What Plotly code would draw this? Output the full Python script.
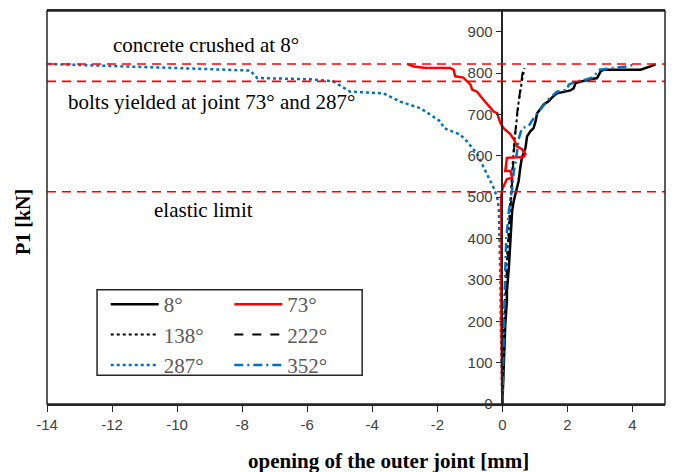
import plotly.graph_objects as go

# Joint opening (mm) vs. load P1 (kN) for each joint position
x_8 = [0, 0.01, 0.04, 0.09, 0.14, 0.14, 0.2, 0.25, 0.3, 0.35, 0.4, 0.47, 0.5, 0.55, 0.6, 0.71,
       0.76, 0.86, 0.96, 1.02, 1.07, 1.27, 1.42, 1.57, 1.68, 2.09, 2.19, 2.25, 2.45, 2.6, 2.91,
       3.02, 3.12, 3.63, 4.25, 4.55, 4.71]
y_8 = [0, 18, 114, 194, 250, 274, 330, 411, 467, 491, 507, 523, 539, 571, 595, 619,
       647, 659, 667, 683, 703, 724, 732, 744, 751, 758, 763, 776, 781, 783, 788,
       804, 808, 808, 808, 816, 821]

x_73 = [0, -0.02, -0.03, -0.03, -0.02, -0.03, -0.04, 0, 0.14, 0.3, 0.25, 0.09, 0.14, 0.65, 0.71,
        0.6, 0.45, 0.35, 0.25, 0.04, -0.06, -0.16, -0.27, -0.47, -0.62, -0.78, -0.93, -0.98,
        -1.08, -1.2, -1.45, -1.5, -1.6, -2.42, -2.73, -2.93]
y_73 = [0, 100, 200, 300, 400, 450, 499, 520, 544, 547, 563, 563, 595, 597, 604,
        616, 623, 640, 652, 667, 679, 703, 707, 724, 739, 755, 760, 772,
        780, 789, 792, 808, 812, 813, 816, 822]

x_138 = [0, 0.02, 0.06, 0.1, 0.17, 0.25, 0.3, 0.35, 0.42, 0.5, 0.6, 0.68]
y_138 = [0, 100, 200, 300, 400, 500, 560, 620, 680, 730, 780, 812]

x_222 = [0, 0.03, 0.08, 0.12, 0.2, 0.28, 0.33, 0.38, 0.45, 0.55, 0.62, 0.7]
y_222 = [0, 100, 200, 300, 400, 500, 580, 640, 700, 760, 800, 815]

x_287 = [0, -0.03, -0.05, -0.06, -0.08, -0.11, -0.16, -0.27, -0.37, -0.58, -0.78, -1.09,
         -1.29, -1.8, -1.9, -2.52, -3.14, -3.66, -4.68, -5.2, -5.9, -7.54, -7.75, -10, -14]
y_287 = [0, 100, 200, 300, 400, 475, 499, 523, 539, 571, 605, 635,
         651, 667, 683, 715, 731, 751, 755, 780, 785, 788, 806, 812, 822]

x_352 = [0, 0.02, 0.05, 0.08, 0.12, 0.2, 0.3, 0.35, 0.4, 0.5, 0.6, 0.8, 0.96, 1.2, 1.4,
         1.68, 2.0, 2.04, 2.3, 2.6, 2.8, 2.96, 3.32, 3.83, 4.09]
y_352 = [0, 100, 200, 300, 400, 467, 520, 563, 580, 640, 667, 671, 691, 716, 735,
         755, 760, 772, 780, 785, 790, 808, 812, 816, 821]

# Load levels marked by horizontal reference lines
limit_levels = [822, 780, 513]
limit_labels = ["concrete crushed at 8°", "bolts yielded at joint 73° and 287°", "elastic limit"]
label_pos = [(-9.1, 869), (-8.95, 729), (-9.2, 469)]

x_ticks = list(range(-14, 5, 2))
x_tick_text = [str(v) for v in x_ticks]
y_ticks = list(range(0, 901, 100))

BLUE = "#0070C0"
series = [
    ("8°", x_8, y_8, "black", "solid", 2.5, "legend"),
    ("138°", x_138, y_138, "black", "dot", 2, "legend"),
    ("287°", x_287, y_287, BLUE, "dot", 2.5, "legend"),
    ("73°", x_73, y_73, "#FF0000", "solid", 2.5, "legend2"),
    ("222°", x_222, y_222, "black", "dash", 2, "legend2"),
    ("352°", x_352, y_352, BLUE, "9px,4px,2px,4px", 2.5, "legend2"),
]

fig = go.Figure()
for name, xs, ys, color, dash, width, leg in series:
    fig.add_trace(go.Scatter(x=xs, y=ys, mode="lines", name=name, legend=leg,
                             line=dict(color=color, dash=dash, width=width)))

for lvl in limit_levels:
    fig.add_shape(type="line", xref="paper", yref="y", x0=0, x1=1, y0=lvl, y1=lvl,
                  line=dict(color="#FF0000", width=1.6, dash="9px,6px"))

for txt, (ax, ay) in zip(limit_labels, label_pos):
    fig.add_annotation(x=ax, y=ay, xref="x", yref="y", text=txt, showarrow=False,
                       xanchor="center", yanchor="middle",
                       font=dict(family="Liberation Serif", size=21, color="black"))

# Frame around the plotting area
fig.add_shape(type="rect", xref="paper", yref="paper", x0=0, x1=1, y0=0, y1=1,
              line=dict(color="#262626", width=1.5), layer="above")

fig.add_annotation(x=-0.039, y=0.463, xref="paper", yref="paper", text="<b>P1 [kN]</b>",
                   textangle=-90, showarrow=False, xanchor="center", yanchor="middle",
                   font=dict(family="Liberation Serif", size=20, color="black"))
fig.add_annotation(x=0.553, y=-0.144, xref="paper", yref="paper",
                   text="<b>opening of the outer joint [mm]</b>", showarrow=False,
                   xanchor="center", yanchor="middle",
                   font=dict(family="Liberation Serif", size=21, color="black"))

tick_font = dict(family="Liberation Sans", size=15, color="#404040")
x_min, x_max = -14, 5
legend_font = dict(family="Liberation Serif", size=21, color="#595959")
fig.update_layout(
    width=675, height=472,
    margin=dict(l=47, r=10, t=9, b=68),
    paper_bgcolor="white", plot_bgcolor="white",
    xaxis=dict(range=[x_min, x_max], tickvals=x_ticks, ticktext=x_tick_text,
               ticks="outside", ticklen=6,
               tickcolor="#262626", showline=True, linecolor="#262626", linewidth=1.5,
               mirror=True, showgrid=False, zeroline=False, tickfont=tick_font),
    yaxis=dict(range=[0, 950], tickvals=y_ticks, ticks="outside", ticklen=6,
               tickcolor="#262626", showline=True, linecolor="#262626", linewidth=1.5,
               anchor="free", position=(0 - x_min) / (x_max - x_min),
               showgrid=False, zeroline=False, tickfont=tick_font),
    legend=dict(x=0.095, y=0.305, xanchor="left", yanchor="top", bgcolor="rgba(0,0,0,0)",
                font=legend_font, tracegroupgap=0, itemwidth=48),
    legend2=dict(x=0.295, y=0.305, xanchor="left", yanchor="top", bgcolor="rgba(0,0,0,0)",
                 font=legend_font, tracegroupgap=0, itemwidth=48),
    showlegend=True,
)
# Legend box enclosing both legend columns
fig.add_shape(type="rect", xref="paper", yref="paper", x0=0.081, x1=0.51, y0=0.073, y1=0.291,
              line=dict(color="#262626", width=1.5), fillcolor="white", layer="below")

fig.write_html("out.html")
